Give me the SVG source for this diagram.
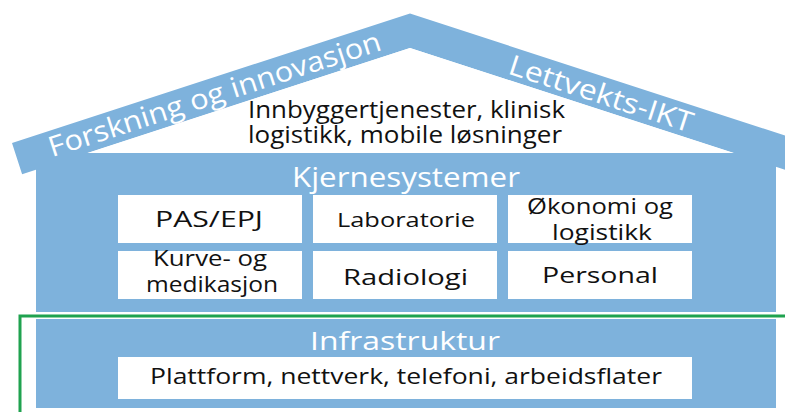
<svg xmlns="http://www.w3.org/2000/svg" width="785" height="412" viewBox="0 0 785 412">
<defs>
<style>
.blue{fill:#7eb2dc}
.box{fill:#ffffff}
.t{font-family:"Open Sans","Noto Sans","DejaVu Sans",sans-serif;text-anchor:middle}
.w{fill:#ffffff}
.k{fill:#111111}
</style>
</defs>
<rect width="785" height="412" fill="#ffffff"/>
<g id="house">
<path class="blue" d="M12,143 L410,13.5 L808,143 L798,174 L410,48 L22.1,174.2 Z"/>
<rect class="blue" x="36" y="153" width="740" height="159"/>
<rect class="blue" x="36" y="319" width="740" height="89"/>
</g>
<g id="white-triangle">
<path fill="#ffffff" d="M88,153 L410,48 L734,153 Z"/>
</g>
<g id="roof-left">
<text class="t w" font-size="28" textLength="348" lengthAdjust="spacingAndGlyphs" transform="translate(217.5,103.5) rotate(-18)">Forskning og innovasjon</text>
</g>
<g id="roof-right">
<text class="t w" font-size="28" textLength="192" lengthAdjust="spacingAndGlyphs" transform="translate(598,103) rotate(18)">Lettvekts-IKT</text>
</g>
<g id="top-services">
<text class="t k" font-size="23" x="406.5" y="118" textLength="317" lengthAdjust="spacingAndGlyphs">Innbyggertjenester, klinisk</text>
<text class="t k" font-size="23" x="405" y="143" textLength="314" lengthAdjust="spacingAndGlyphs">logistikk, mobile løsninger</text>
</g>
<g id="kjernesystemer">
<text class="t w" font-size="27" x="406" y="187" textLength="228" lengthAdjust="spacingAndGlyphs">Kjernesystemer</text>
</g>
<g id="pas-epj">
<rect class="box" x="118" y="195" width="184" height="48"/>
<text class="t k" font-size="22" x="209" y="227" textLength="108" lengthAdjust="spacingAndGlyphs">PAS/EPJ</text>
</g>
<g id="laboratorie">
<rect class="box" x="313" y="195" width="184" height="48"/>
<text class="t k" font-size="20" x="406" y="227" textLength="138" lengthAdjust="spacingAndGlyphs">Laboratorie</text>
</g>
<g id="okonomi">
<rect class="box" x="508" y="195" width="184" height="48"/>
<text class="t k" font-size="21" x="600" y="214" textLength="146" lengthAdjust="spacingAndGlyphs">Økonomi og</text>
<text class="t k" font-size="21" x="602" y="240" textLength="100" lengthAdjust="spacingAndGlyphs">logistikk</text>
</g>
<g id="kurve">
<rect class="box" x="118" y="251" width="184" height="48"/>
<text class="t k" font-size="21" x="210" y="266" textLength="114" lengthAdjust="spacingAndGlyphs">Kurve- og</text>
<text class="t k" font-size="21" x="212" y="292" textLength="132" lengthAdjust="spacingAndGlyphs">medikasjon</text>
</g>
<g id="radiologi">
<rect class="box" x="313" y="251" width="184" height="48"/>
<text class="t k" font-size="22" x="405.5" y="285" textLength="125" lengthAdjust="spacingAndGlyphs">Radiologi</text>
</g>
<g id="personal">
<rect class="box" x="508" y="251" width="184" height="48"/>
<text class="t k" font-size="22" x="600" y="283" textLength="116" lengthAdjust="spacingAndGlyphs">Personal</text>
</g>
<g id="infrastruktur">
<text class="t w" font-size="25" x="405" y="350" textLength="190" lengthAdjust="spacingAndGlyphs">Infrastruktur</text>
<rect class="box" x="118" y="357" width="574" height="42"/>
<text class="t k" font-size="21" x="406" y="384" textLength="512" lengthAdjust="spacingAndGlyphs">Plattform, nettverk, telefoni, arbeidsflater</text>
</g>
<g id="connectors">
<rect x="20" y="316" width="800" height="200" fill="none" stroke="#1fa24f" stroke-width="3"/>
</g>
</svg>
